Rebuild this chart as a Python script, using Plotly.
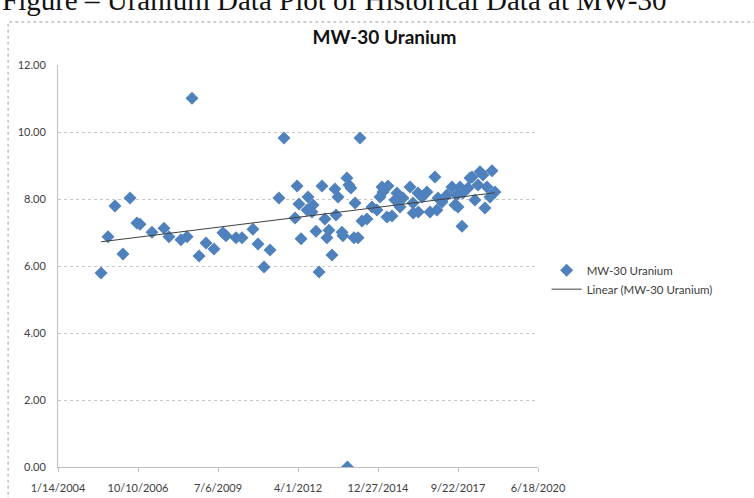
import numpy as np
import pandas as pd
import plotly.graph_objects as go

sample_dates = [
    "2005-07-05", "2005-09-30", "2005-12-26", "2006-04-05", "2006-07-02", "2006-09-27", "2006-11-04",
    "2007-04-03", "2007-08-31", "2007-11-01", "2008-03-30", "2008-06-14", "2008-08-15", "2008-11-11",
    "2009-02-06", "2009-05-17", "2009-09-06", "2009-10-14", "2010-02-16", "2010-05-02", "2010-09-16",
    "2010-11-18", "2011-02-01", "2011-04-17", "2011-08-07", "2011-10-09", "2012-02-24", "2012-03-20",
    "2012-04-13", "2012-05-09", "2012-07-23", "2012-08-04", "2012-09-23", "2012-10-06", "2012-11-12",
    "2012-12-20", "2013-01-26", "2013-03-04", "2013-03-29", "2013-04-23", "2013-05-31", "2013-07-07",
    "2013-07-20", "2013-08-14", "2013-10-03", "2013-10-15", "2013-12-04", "2013-12-10", "2013-12-29",
    "2014-01-23", "2014-03-02", "2014-03-15", "2014-04-21", "2014-05-16", "2014-06-10", "2014-08-11",
    "2014-10-13", "2014-12-14", "2015-01-21", "2015-02-15", "2015-02-27", "2015-04-18", "2015-05-01",
    "2015-06-20", "2015-07-27", "2015-08-21", "2015-09-28", "2015-11-04", "2016-01-31", "2016-03-08",
    "2016-03-12", "2016-05-10", "2016-05-14", "2016-06-29", "2016-08-30", "2016-10-07", "2016-12-08",
    "2017-01-02", "2017-01-15", "2017-03-06", "2017-05-07", "2017-07-09", "2017-08-15", "2017-09-09",
    "2017-09-22", "2017-10-17", "2017-11-11", "2017-11-23", "2018-01-25", "2018-02-19", "2018-03-16",
    "2018-04-22", "2018-05-30", "2018-06-24", "2018-07-31", "2018-08-25", "2018-09-19", "2018-10-27",
    "2018-11-21", "2018-12-28",
]
uranium = [
    5.79, 6.87, 7.79, 6.36, 8.03, 7.28, 7.25,
    7.01, 7.13, 6.87, 6.78, 6.87, 11.01, 6.30,
    6.69, 6.51, 6.99, 6.90, 6.84, 6.84, 7.10,
    6.66, 5.97, 6.48, 8.03, 9.82, 7.43, 8.39,
    7.85, 6.81, 7.67, 8.06, 7.61, 7.82, 7.04,
    5.82, 8.39, 7.40, 6.84, 7.07, 6.33, 8.30,
    7.52, 8.06, 7.01, 6.90, 8.63, 0.00, 8.42,
    8.33, 6.84, 7.88, 6.84, 9.82, 7.34, 7.40,
    7.76, 7.67, 8.06, 8.36, 8.21, 7.46, 8.39,
    7.49, 7.97, 8.18, 7.76, 8.03, 8.36, 7.88,
    7.58, 8.18, 7.61, 8.06, 8.21, 7.61, 8.66,
    7.67, 8.03, 7.91, 8.12, 8.36, 7.82, 8.12,
    7.76, 8.36, 7.19, 8.18, 8.33, 8.63, 8.66,
    7.97, 8.42, 8.81, 8.72, 7.73, 8.36, 8.06,
    8.84, 8.21,
]
x_tick_dates = ["2004-01-14", "2006-10-10", "2009-07-06", "2012-04-01", "2014-12-27", "2017-09-22", "2020-06-18"]
x_tick_labels = ["1/14/2004", "10/10/2006", "7/6/2009", "4/1/2012", "12/27/2014", "9/22/2017", "6/18/2020"]
y_tick_vals = [0, 2, 4, 6, 8, 10, 12]
y_tick_labels = ["0.00", "2.00", "4.00", "6.00", "8.00", "10.00", "12.00"]

dates = pd.to_datetime(sample_dates)
days = (dates - dates[0]).days.values.astype(float)
slope, intercept = np.polyfit(days, np.array(uranium), 1)
trend_x = [dates[0], dates[-1]]
trend_y = [intercept, intercept + slope * days[-1]]

fig = go.Figure()
fig.add_trace(go.Scatter(
    x=dates, y=uranium, mode="markers", name="MW-30 Uranium",
    marker=dict(symbol="diamond", size=10, color="#4F81BD", line=dict(width=0)),
))
fig.add_trace(go.Scatter(
    x=trend_x, y=trend_y, mode="lines", name="Linear (MW-30 Uranium)",
    line=dict(color="#404040", width=1),
))

fig.update_layout(
    width=754, height=498,
    margin=dict(l=58, r=216, t=65, b=31, autoexpand=False),
    paper_bgcolor="white", plot_bgcolor="white",
    font=dict(family="Lato, Open Sans, sans-serif", color="#404040", size=11),
    title=dict(text="<b>MW-30 Uranium</b>", x=0.51, xref="container", y=0.925, yref="container",
               xanchor="center", yanchor="middle",
               font=dict(family="Lato, Open Sans, sans-serif", size=19, color="#111111")),
    showlegend=True,
    legend=dict(x=1.018, y=0.466, xanchor="left", yanchor="middle", bgcolor="rgba(0,0,0,0)",
                font=dict(size=11.5, color="#404040")),
    xaxis=dict(
        type="date", range=[x_tick_dates[0], x_tick_dates[-1]],
        tickmode="array", tickvals=x_tick_dates, ticktext=x_tick_labels,
        showgrid=False, zeroline=False, automargin=False,
        showline=True, linecolor="#BFBFBF", linewidth=1,
        ticks="outside", ticklen=4, tickcolor="#BFBFBF",
        ticklabelstandoff=7,
        tickfont=dict(size=11, color="#404040"),
    ),
    yaxis=dict(
        range=[0, 12], tickmode="array", tickvals=y_tick_vals, ticktext=y_tick_labels,
        showgrid=True, gridcolor="#C8C8C8", griddash="dot", gridwidth=1,
        zeroline=False, showline=True, linecolor="#BFBFBF", linewidth=1, automargin=False,
        ticks="", ticklabelstandoff=9, tickfont=dict(size=11, color="#404040"),
    ),
    shapes=[dict(type="rect", xref="paper", yref="paper",
                 x0=-0.104, x1=1.47, y0=-0.1, y1=1.107,
                 line=dict(color="#A0A0A0", width=1, dash="dot"), layer="below")],
    annotations=[dict(text="Figure – Uranium Data Plot of Historical Data at MW-30",
                      xref="paper", yref="paper", x=-0.121, y=1.162, xanchor="left", yanchor="middle",
                      showarrow=False,
                      font=dict(family="Liberation Serif, Times New Roman, serif", size=29, color="#111111"))],
)

fig.write_html("out.html", config={"displayModeBar": False},
               post_script="document.body.style.margin='0px';document.body.style.padding='0px';")
